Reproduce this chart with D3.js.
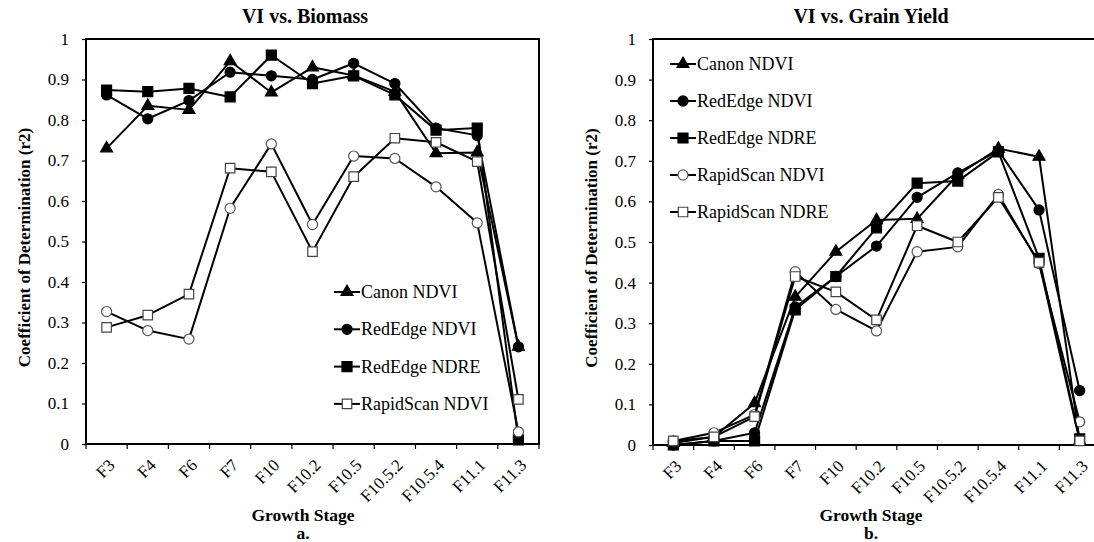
<!DOCTYPE html>
<html>
<head>
<meta charset="utf-8">
<script src="https://cdn.jsdelivr.net/npm/d3@7"></script>
<style>
body { margin: 0; background: #fff; }
text { font-family: "Liberation Serif", "Times New Roman", "DejaVu Serif", serif; fill: #000; }
</style>
</head>
<body>
<div id="chart"></div>
<script>
// categories and tick labels
var stages = ["F3", "F4", "F6", "F7", "F10", "F10.2", "F10.5", "F10.5.2", "F10.5.4", "F11.1", "F11.3"];
var yTicks = [0, 0.1, 0.2, 0.3, 0.4, 0.5, 0.6, 0.7, 0.8, 0.9, 1];
var yTickLabels = ["0", "0.1", "0.2", "0.3", "0.4", "0.5", "0.6", "0.7", "0.8", "0.9", "1"];
var seriesNames = ["Canon NDVI", "RedEdge NDVI", "RedEdge NDRE", "RapidScan NDVI", "RapidScan NDRE"];

// a. VI vs. Biomass
var bioCanonNDVI     = [0.73, 0.835, 0.825, 0.945, 0.868, 0.93, 0.91, 0.87, 0.718, 0.72, 0.24];
var bioRedEdgeNDVI   = [0.862, 0.803, 0.848, 0.918, 0.909, 0.90, 0.94, 0.89, 0.78, 0.762, 0.24];
var bioRedEdgeNDRE   = [0.874, 0.87, 0.878, 0.857, 0.96, 0.89, 0.909, 0.862, 0.775, 0.78, 0.01];
var bioRapidScanNDVI = [0.327, 0.28, 0.259, 0.582, 0.741, 0.542, 0.711, 0.705, 0.635, 0.546, 0.03];
var bioRapidScanNDRE = [0.288, 0.318, 0.37, 0.681, 0.672, 0.475, 0.66, 0.755, 0.745, 0.697, 0.11];
// legend of panel a shows only four entries (last one with the open square)
var bioLegendNames = ["Canon NDVI", "RedEdge NDVI", "RedEdge NDRE", "RapidScan NDVI"];
var bioLegendStyles = [0, 1, 2, 4];

// b. VI vs. Grain Yield
var gyCanonNDVI     = [0.005, 0.02, 0.103, 0.365, 0.476, 0.554, 0.557, 0.665, 0.73, 0.71, 0.01];
var gyRedEdgeNDVI   = [0.0, 0.01, 0.03, 0.34, 0.415, 0.49, 0.61, 0.67, 0.725, 0.579, 0.134];
var gyRedEdgeNDRE   = [0.0, 0.01, 0.01, 0.333, 0.415, 0.535, 0.645, 0.65, 0.722, 0.46, 0.015];
var gyRapidScanNDVI = [0.01, 0.03, 0.075, 0.427, 0.334, 0.281, 0.476, 0.488, 0.617, 0.447, 0.057];
var gyRapidScanNDRE = [0.01, 0.02, 0.07, 0.415, 0.377, 0.308, 0.54, 0.50, 0.61, 0.45, 0.01];

// marker style per series
var markerStyles = [
  {type: d3.symbolTriangle, size: 62, fill: "#000", stroke: "#000"},
  {type: d3.symbolCircle, size: 80, fill: "#000", stroke: "#000"},
  {type: d3.symbolSquare, size: 100, fill: "#000", stroke: "#000"},
  {type: d3.symbolCircle, size: 80, fill: "#fff", stroke: "#555"},
  {type: d3.symbolSquare, size: 90, fill: "#fff", stroke: "#444"}
];

var svg = d3.select("#chart").append("svg")
  .attr("width", 1094)
  .attr("height", 542)
  .style("display", "block");

svg.append("rect").attr("width", 1094).attr("height", 542).attr("fill", "#fff");

function drawMarker(g, style, cx, cy) {
  g.append("path")
    .attr("d", d3.symbol().type(style.type).size(style.size)())
    .attr("transform", "translate(" + cx + "," + cy + ")")
    .attr("fill", style.fill)
    .attr("stroke", style.stroke)
    .attr("stroke-width", 1.2);
}

function drawPanel(p) {
  var g = svg.append("g");

  var x = d3.scaleBand().domain(stages).range([p.left, p.right]);
  var y = d3.scaleLinear().domain([0, 1]).range([p.bottom, p.top]);
  var cx = function(s) { return x(s) + x.bandwidth() / 2; };

  // title
  g.append("text")
    .attr("x", p.titleX).attr("y", 23)
    .attr("text-anchor", "middle")
    .attr("font-size", 20).attr("font-weight", "bold")
    .text(p.title);

  // y axis
  var yAxis = g.append("g")
    .attr("transform", "translate(" + p.left + ",0)")
    .call(d3.axisLeft(y).tickValues(yTicks).tickFormat(function(d, i) { return yTickLabels[i]; })
      .tickSize(4).tickPadding(13));
  yAxis.select(".domain").remove();
  yAxis.selectAll("line").attr("stroke", "#000").attr("stroke-width", 1.2);
  yAxis.selectAll("text")
    .attr("font-family", "Liberation Serif, Times New Roman, serif")
    .attr("font-size", 17).attr("fill", "#000");

  // y title
  g.append("text")
    .attr("transform", "translate(" + (p.left - 62) + "," + ((p.top + p.bottom) / 2 + 6) + ") rotate(-90)")
    .attr("text-anchor", "middle")
    .attr("dominant-baseline", "central")
    .attr("font-size", 17).attr("font-weight", "bold")
    .text("Coefficient of Determination (r2)");

  // x axis labels
  var xAxis = g.append("g")
    .attr("transform", "translate(0," + p.bottom + ")")
    .call(d3.axisBottom(x).tickSize(0).tickPadding(0));
  xAxis.select(".domain").remove();
  xAxis.selectAll("text")
    .attr("font-family", "Liberation Serif, Times New Roman, serif")
    .attr("font-size", 17).attr("fill", "#000")
    .attr("text-anchor", "end")
    .attr("y", null).attr("dy", "0.35em")
    .attr("transform", "translate(5,18) rotate(-45)");

  // category boundary ticks
  var bounds = stages.map(function(s) { return x(s); }).concat([p.right]);
  g.selectAll(null).data(bounds).enter().append("line")
    .attr("x1", function(d) { return d; }).attr("x2", function(d) { return d; })
    .attr("y1", p.bottom).attr("y2", p.bottom + 5)
    .attr("stroke", "#000").attr("stroke-width", 1.2);

  // plot box
  g.append("rect")
    .attr("x", p.left).attr("y", p.top)
    .attr("width", p.right - p.left).attr("height", p.bottom - p.top)
    .attr("fill", "none").attr("stroke", "#000").attr("stroke-width", 2);

  // x title and panel letter
  g.append("text")
    .attr("x", p.xTitleX).attr("y", 521)
    .attr("text-anchor", "middle")
    .attr("font-size", 17.5).attr("font-weight", "bold")
    .text("Growth Stage");
  g.append("text")
    .attr("x", p.xTitleX).attr("y", 539)
    .attr("text-anchor", "middle")
    .attr("font-size", 17.5).attr("font-weight", "bold")
    .text(p.letter);

  // series
  var line = d3.line()
    .x(function(d, i) { return cx(stages[i]); })
    .y(function(d) { return y(d); });

  p.series.forEach(function(vals, si) {
    g.append("path")
      .datum(vals)
      .attr("d", line)
      .attr("fill", "none")
      .attr("stroke", "#000")
      .attr("stroke-width", 2)
      .attr("stroke-linejoin", "round");
    vals.forEach(function(v, i) {
      drawMarker(g, markerStyles[si], cx(stages[i]), y(v));
    });
  });

  // legend
  var lg = g.append("g");
  p.legendNames.forEach(function(name, i) {
    var ly = p.legendY + i * p.legendStep;
    var st = markerStyles[p.legendStyles[i]];
    lg.append("line")
      .attr("x1", p.legendX).attr("x2", p.legendX + 26)
      .attr("y1", ly).attr("y2", ly)
      .attr("stroke", "#000").attr("stroke-width", 2);
    drawMarker(lg, st, p.legendX + 13, ly);
    lg.append("text")
      .attr("x", p.legendX + 27).attr("y", ly)
      .attr("dominant-baseline", "central")
      .attr("font-size", 18)
      .text(name);
  });
}

drawPanel({
  left: 86, right: 539, top: 39, bottom: 444,
  title: "VI vs. Biomass", titleX: 305, xTitleX: 303, letter: "a.",
  series: [bioCanonNDVI, bioRedEdgeNDVI, bioRedEdgeNDRE, bioRapidScanNDVI, bioRapidScanNDRE],
  legendNames: bioLegendNames, legendStyles: bioLegendStyles,
  legendX: 334, legendY: 292, legendStep: 37.3
});

drawPanel({
  left: 653, right: 1100, top: 39, bottom: 445,
  title: "VI vs. Grain Yield", titleX: 871, xTitleX: 871, letter: "b.",
  series: [gyCanonNDVI, gyRedEdgeNDVI, gyRedEdgeNDRE, gyRapidScanNDVI, gyRapidScanNDRE],
  legendNames: seriesNames, legendStyles: [0, 1, 2, 3, 4],
  legendX: 670, legendY: 64, legendStep: 37
});
</script>
</body>
</html>
